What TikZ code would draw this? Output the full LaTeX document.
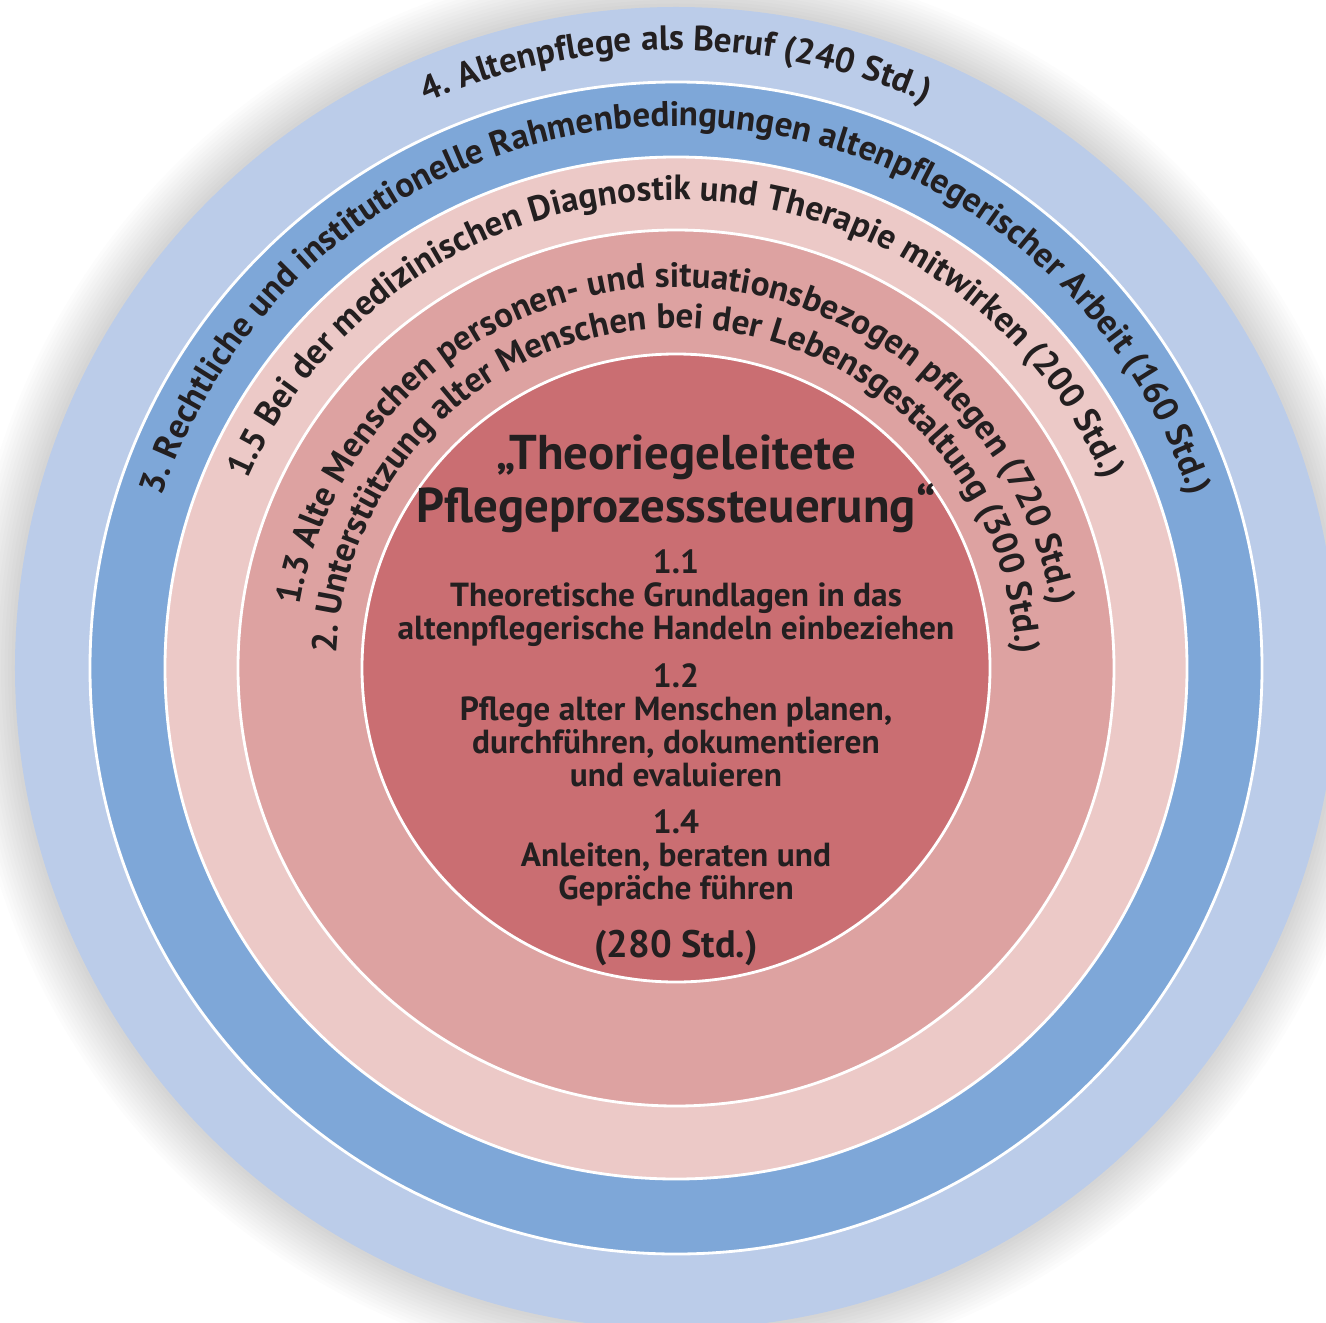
\documentclass[tikz,border=0pt]{standalone}
\usepackage{fontspec}
\setmainfont{PT Sans}
\usetikzlibrary{decorations.text}
\definecolor{ringfour}{RGB}{187,204,233}
\definecolor{ringthree}{RGB}{126,167,216}
\definecolor{ringfive}{RGB}{236,201,199}
\definecolor{ringtwo}{RGB}{221,162,161}
\definecolor{ringcore}{RGB}{202,110,114}
\definecolor{inktext}{RGB}{35,31,32}
\newcommand{\ringfont}{\bfseries\fontsize{10}{12}\selectfont}
\newcommand{\corefont}{\bfseries\fontsize{9.5}{9.4}\selectfont}
\newcommand{\headfont}{\bfseries\fontsize{13.9}{12.3}\selectfont}

\begin{document}
\begin{tikzpicture}[
    band/.style={draw=white, line width=.8pt},
    ringtext/.style={decorate, decoration={text along path, text align=center, text color=inktext}},
    coretext/.style={text=inktext, align=center, font=\corefont, inner sep=0pt}
  ]
        \useasboundingbox (-6.76,-6.54) rectangle (6.50,6.68);
        % soft halo round the outer ring
        \foreach \k in {1,...,14}
        \fill[black, opacity=0.012] (0,0) circle (6.61+0.035*\k);
        \fill[ringfour] (0,0) circle (6.61);
        \filldraw[band, fill=ringthree] (0,0) circle (5.86);
        \filldraw[band, fill=ringfive] (0,0) circle (5.11);
        \filldraw[band, fill=ringtwo] (0,0) circle (4.38);
        \filldraw[band, fill=ringcore] (0,0) circle (3.14);
        % texts along the rings
        \path[ringtext, decoration={text={|\ringfont|4. Altenpflege als Beruf (240 Std.)}}]
            (180:6.18) arc (180:0:6.18);
        \path[ringtext, decoration={text={|\ringfont|3. Rechtliche und institutionelle Rahmenbedingungen altenpflegerischer Arbeit (160 Std.)}}]
            (180:5.42) arc (180:0:5.42);
        \path[ringtext, decoration={text={|\ringfont|1.5 Bei der medizinischen Diagnostik und Therapie mitwirken (200 Std.)}}]
            (180:4.68) arc (180:0:4.68);
        \path[ringtext, decoration={text={|\ringfont|1.3 Alte Menschen personen- und situationsbezogen pflegen (720 Std.)}}]
            (180:3.81) arc (180:0:3.81);
        \path[ringtext, decoration={text={|\ringfont|2. Unterstützung alter Menschen bei der Lebensgestaltung (300 Std.)}}]
            (180:3.40) arc (180:0:3.40);
        % centre
        \node[coretext, font=\headfont] (title) at (0,1.84) {„Theoriegeleitete\\Pflegeprozesssteuerung“};
        \node[coretext] (lf11) at (0,0.70) {1.1\\Theoretische Grundlagen in das\\altenpflegerische Handeln einbeziehen};
        \node[coretext] (lf12) at (0,-0.57) {1.2\\Pflege alter Menschen planen,\\durchführen, dokumentieren\\und evaluieren};
        \node[coretext] (lf14) at (0,-1.90) {1.4\\Anleiten, beraten und\\Gepräche führen};
        \node[coretext, font=\bfseries\fontsize{10.9}{12}\selectfont] (hours) at (0,-2.80) {(280 Std.)};
\end{tikzpicture}
\end{document}
